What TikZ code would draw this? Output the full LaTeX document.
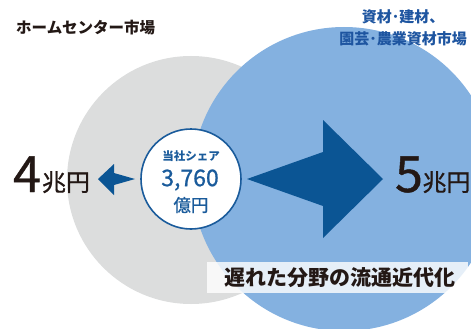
\documentclass[tikz,border=0pt]{standalone}
\usepackage{fontspec}
\setmainfont{Noto Sans CJK JP}
\newfontfamily\jpmed{Noto Sans CJK JP}[FakeBold=0.9]
\definecolor{cgray}{HTML}{DCDDDD}
\definecolor{cblue}{HTML}{84B1E0}
\definecolor{cdark}{HTML}{0B5594}
\definecolor{cring}{HTML}{1A5B9B}
\definecolor{ctxtblue}{HTML}{1E55A0}
\definecolor{cblack}{HTML}{231815}
\tikzset{
  bigcirc/.style={circle,inner sep=0pt,draw=none},
  arrowshape/.style={fill=cdark,draw=none},
  lbl/.style={inner sep=0pt,text=cblack},
}
\begin{document}
\begin{tikzpicture}[x=1pt,y=-1pt]
\useasboundingbox (0,0) rectangle (471,329);
\clip (0,0) rectangle (471,329);
% circles
\node[bigcirc,fill=cgray,minimum size=248pt] (home) at (191,180) {};
\node[bigcirc,fill=cblue,minimum size=304pt] (mat) at (344,179) {};
% big arrow
\fill[arrowshape] (247,179) -- (323,152) -- (323,120) -- (383,179) -- (323,238) -- (323,206) -- cycle;
% small arrow
\fill[arrowshape] (135,179) -- (114,173) -- (114,164) -- (98,179) -- (114,195) -- (114,185) -- cycle;
% share circle
\node[circle,fill=white,draw=cring,line width=1.6pt,minimum size=100pt,inner sep=0pt] (share) at (191,179) {};
\node[inner sep=0pt,text=cring,font=\bfseries\fontsize{11.5}{12}\selectfont] (t1) at (191,156) {当社シェア};
\node[inner sep=0pt,text=cring,font=\jpmed\fontsize{23}{24}\selectfont] (t2) at (190,180) {3,760};
\node[inner sep=0pt,text=cring,font=\jpmed\fontsize{17.5}{18}\selectfont] (t3) at (191,205) {億円};
% label box
\fill[white,opacity=0.8] (207,262) rectangle (468,293);
\node[lbl,font=\bfseries\fontsize{21}{22}\selectfont] (slow) at (340,278) {遅れた分野の流通近代化};
% titles
\node[lbl,font=\bfseries\fontsize{15.5}{16}\selectfont,anchor=west] (hc) at (16,28) {ホームセンター市場};
\node[inner sep=0pt,text=ctxtblue,font=\bfseries\fontsize{15}{22}\selectfont,align=center] (am) at (403,28) {資材･建材、\\園芸･農業資材市場};
% values
\node[lbl,font=\jpmed\fontsize{50}{50}\selectfont,anchor=base] (n4) at (27,192) {4};
\node[lbl,font=\jpmed\fontsize{24}{24}\selectfont,anchor=base] (u4) at (66,191) {兆円};
\node[lbl,font=\jpmed\fontsize{50}{50}\selectfont,anchor=base] (n5) at (409,192) {5};
\node[lbl,font=\jpmed\fontsize{24}{24}\selectfont,anchor=base] (u5) at (446.5,191) {兆円};
\end{tikzpicture}
\end{document}
